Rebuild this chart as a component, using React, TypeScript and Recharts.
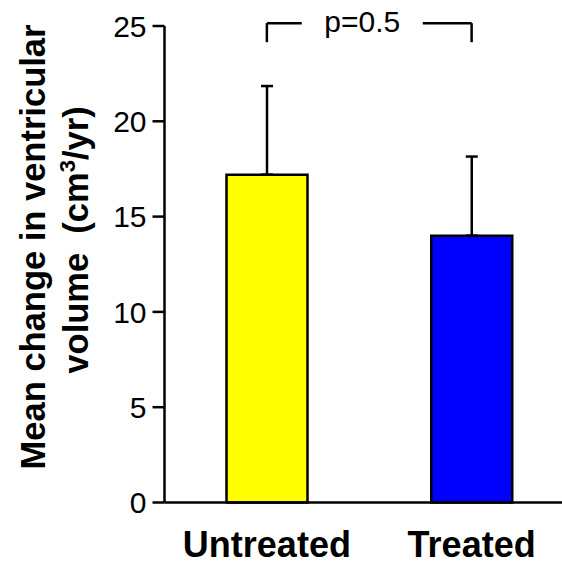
import { Bar, BarChart, Cell, ErrorBar, ReferenceLine, XAxis, YAxis } from "recharts"

const categories = ["Untreated", "Treated"]
const means = [17.2, 14.0]
const upperErrors = [4.65, 4.15]
const barColors = ["#FFFF00", "#0000FF"]
const yTicks = [0, 5, 10, 15, 20, 25]
const pLabel = "p=0.5"
const bracketLow = 24.15
const bracketHigh = 25.15

const font = "'Liberation Sans', Arial, sans-serif"

const data = categories.map((name, i) => ({
  name,
  mean: means[i],
  err: [0, upperErrors[i]],
}))

const YLabel = () => (
  <g fontFamily={font} fontWeight="bold" fontSize={34.5} fill="#000">
    <text x={45} y={247} textAnchor="middle" transform="rotate(-90, 45, 247)">
      Mean change in ventricular
    </text>
    <text x={88} y={240} textAnchor="middle" transform="rotate(-90, 88, 240)" style={{ whiteSpace: "pre" }}>
      {"volume  (cm"}
      <tspan fontSize={22} dy={-13}>3</tspan>
      <tspan dy={13}>/yr)</tspan>
    </text>
  </g>
)

const PLabel = (props: any) => {
  const { viewBox } = props
  const cx = viewBox.x + viewBox.width / 2 - 7
  const y = viewBox.y
  return (
    <g>
      <rect x={cx - 60.5} y={y - 20} width={121} height={40} fill="#fff" />
      <text x={cx} y={y + 9} textAnchor="middle" fontFamily={font} fontSize={30} fill="#000">
        {pLabel}
      </text>
    </g>
  )
}

export default function App() {
  return (
    <div style={{ position: "absolute", left: 0, top: 0, width: 562, height: 565, overflow: "hidden", background: "#fff" }}>
      <BarChart width={576} height={565} data={data} margin={{ top: 26, right: 2, bottom: 0, left: 0 }}>
        <XAxis
          dataKey="name"
          height={62.5}
          stroke="#000"
          strokeWidth={2.5}
          tickLine={false}
          tickSize={0}
          tickMargin={29}
          tick={{ fill: "#000", fontSize: 36, fontWeight: "bold", fontFamily: font }}
        />
        <YAxis
          width={164.5}
          domain={[0, 25]}
          ticks={yTicks}
          stroke="#000"
          strokeWidth={2.5}
          tickSize={12}
          tickMargin={6}
          tick={{ fill: "#000", fontSize: 30, fontFamily: font }}
          label={{ content: () => <YLabel /> }}
        />
        <Bar dataKey="mean" barSize={81} stroke="#000" strokeWidth={2.5} isAnimationActive={false}>
          {data.map((d, i) => (
            <Cell key={d.name} fill={barColors[i]} />
          ))}
          <ErrorBar dataKey="err" direction="y" width={6} stroke="#000" strokeWidth={2.5} isAnimationActive={false} />
        </Bar>
        <ReferenceLine
          segment={[{ x: categories[0], y: bracketLow }, { x: categories[0], y: bracketHigh }]}
          stroke="#000"
          strokeWidth={2.5}
          ifOverflow="visible"
        />
        <ReferenceLine
          segment={[{ x: categories[1], y: bracketLow }, { x: categories[1], y: bracketHigh }]}
          stroke="#000"
          strokeWidth={2.5}
          ifOverflow="visible"
        />
        <ReferenceLine
          segment={[{ x: categories[0], y: bracketHigh }, { x: categories[1], y: bracketHigh }]}
          stroke="#000"
          strokeWidth={2.5}
          ifOverflow="visible"
          label={<PLabel />}
        />
      </BarChart>
    </div>
  )
}
